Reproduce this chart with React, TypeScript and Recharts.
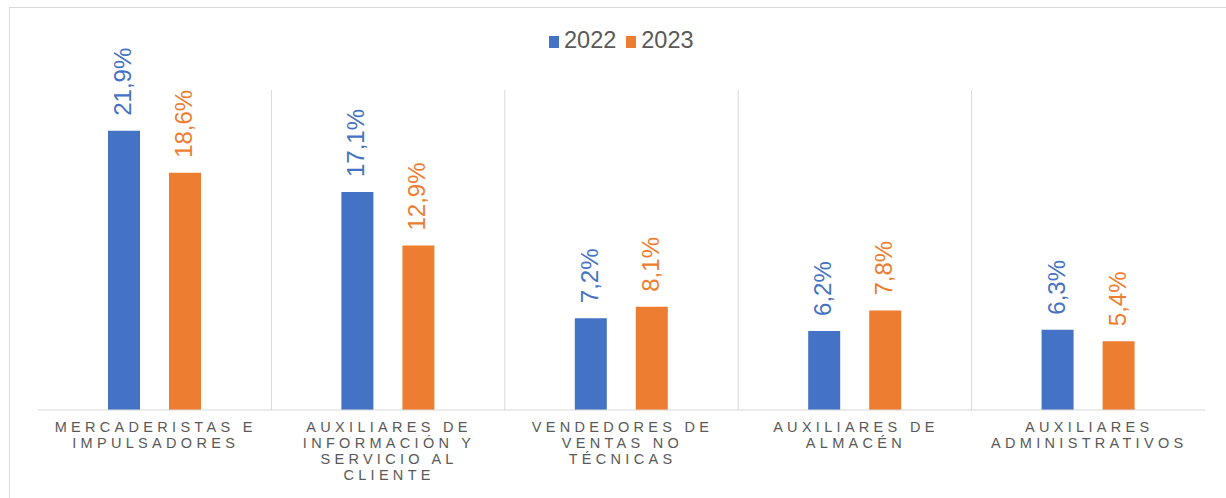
import { Bar, BarChart, CartesianGrid, LabelList, XAxis, YAxis } from 'recharts'

const categories = [
  ['MERCADERISTAS E', 'IMPULSADORES'],
  ['AUXILIARES DE', 'INFORMACIÓN Y', 'SERVICIO AL', 'CLIENTE'],
  ['VENDEDORES DE', 'VENTAS NO', 'TÉCNICAS'],
  ['AUXILIARES DE', 'ALMACÉN'],
  ['AUXILIARES', 'ADMINISTRATIVOS'],
]
const values2022 = [21.9, 17.1, 7.2, 6.2, 6.3]
const values2023 = [18.6, 12.9, 8.1, 7.8, 5.4]
const seriesNames = ['2022', '2023']

const BLUE = '#4472C4'
const ORANGE = '#ED7D31'
const GRID = '#d9d9d9'
const FONT = '"Liberation Sans", Arial, sans-serif'

const data = categories.map((lines, i) => ({
  name: lines.join(' '),
  lines,
  y2022: values2022[i],
  y2023: values2023[i],
}))

const fmt = (v: number) => v.toFixed(1).replace('.', ',') + '%'

function CategoryTick(props: any) {
  const { x, y, payload } = props
  const lines = categories[payload.index] ?? []
  return (
    <g>
      {lines.map((line, i) => (
        <text
          key={i}
          x={x + 1}
          y={y + 14 + i * 16}
          textAnchor="middle"
          fontFamily={FONT}
          fontSize={14.5}
          letterSpacing={4.3}
          fill="#595959"
        >
          {line}
        </text>
      ))}
    </g>
  )
}

function valueLabel(color: string) {
  return (props: any) => {
    const { x, y, width, value } = props
    const cx = x + width / 2 + 7
    const cy = y - 15
    return (
      <text
        x={cx}
        y={cy}
        transform={`rotate(-90 ${cx} ${cy})`}
        fontFamily={FONT}
        fontSize={24}
        fill={color}
      >
        {fmt(value)}
      </text>
    )
  }
}

function LegendBox() {
  const items = [
    { name: seriesNames[0], color: BLUE },
    { name: seriesNames[1], color: ORANGE },
  ]
  return (
    <div
      style={{
        position: 'absolute',
        top: 27,
        left: 549,
        display: 'flex',
        alignItems: 'center',
        fontFamily: FONT,
        fontSize: 23.5,
        color: '#595959',
      }}
    >
      {items.map((it) => (
        <div key={it.name} style={{ display: 'flex', alignItems: 'center', marginRight: 10 }}>
          <span style={{ width: 10, height: 12, background: it.color, marginRight: 5, marginTop: 3 }} />
          <span>{it.name}</span>
        </div>
      ))}
    </div>
  )
}

export default function App() {
  return (
    <div style={{ position: 'absolute', left: 0, top: 0, width: 1226, height: 498, overflow: 'hidden', background: '#fff' }}>
      <div
        style={{
          position: 'absolute',
          left: 9,
          top: 7,
          width: 1240,
          height: 520,
          border: `1px solid ${GRID}`,
        }}
      />
      <LegendBox />
      <BarChart
        width={1226}
        height={498}
        data={data}
        margin={{ top: 90, right: 21, bottom: 58, left: 38 }}
        barSize={32}
        barGap={29}
        style={{ position: 'absolute', left: 0, top: 0 }}
      >
        <CartesianGrid
          horizontal={false}
          stroke={GRID}
          verticalCoordinatesGenerator={({ offset }: any) =>
            categories.map((_, i) => offset.left + ((i + 1) * offset.width) / categories.length).slice(0, -1)
          }
        />
        <XAxis
          dataKey="name"
          axisLine={{ stroke: GRID }}
          tickLine={false}
          interval={0}
          tick={<CategoryTick />}
        />
        <YAxis hide domain={[0, 25.1]} allowDataOverflow />
        <Bar dataKey="y2022" name={seriesNames[0]} fill={BLUE} isAnimationActive={false}>
          <LabelList dataKey="y2022" content={valueLabel(BLUE)} />
        </Bar>
        <Bar dataKey="y2023" name={seriesNames[1]} fill={ORANGE} isAnimationActive={false}>
          <LabelList dataKey="y2023" content={valueLabel(ORANGE)} />
        </Bar>
      </BarChart>
    </div>
  )
}
